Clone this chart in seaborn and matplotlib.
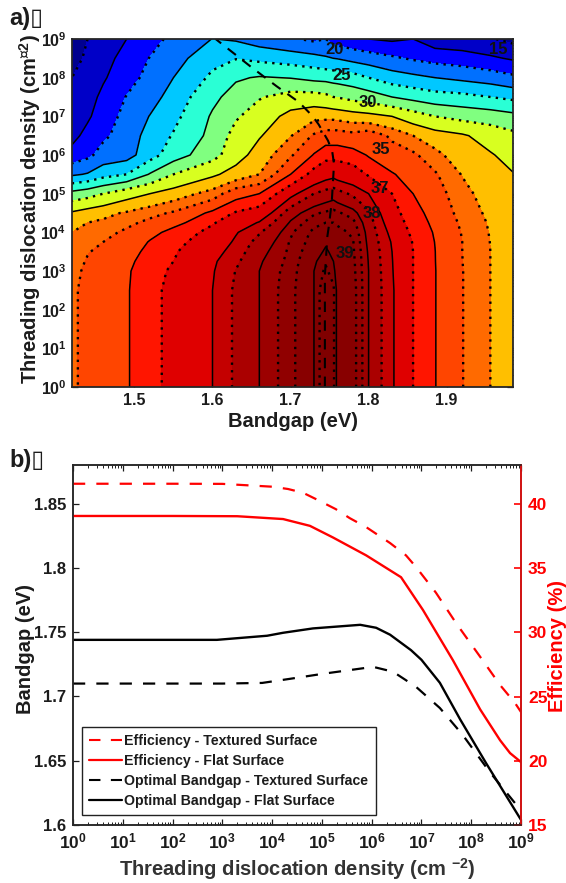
import numpy as np
import pandas as pd
import seaborn as sns
import matplotlib
matplotlib.use("Agg")
import matplotlib.pyplot as plt
from matplotlib.lines import Line2D

# ---------- panel a data ----------
bandgap = [1.42, 1.44, 1.46, 1.49, 1.52, 1.55, 1.60, 1.63, 1.66, 1.70, 1.73,
           1.745, 1.755, 1.76, 1.78, 1.80, 1.83, 1.857, 1.885, 1.92, 1.956, 1.985]
log_density = [0, 1, 2, 2.5, 3, 3.25, 3.5, 3.75, 4, 4.25, 4.5, 5, 5.5, 6, 6.5, 7, 7.5, 8, 8.5, 9]
eff_b142 = [33.2, 33.2, 33.2, 33.2, 33.0, 32.8, 32.5, 32.3, 32, 31.2, 30.3, 25.8, 19.6, 15.9, 14.2, 14, 13.5, 12.5, 11.5, 10.5]
eff_b144 = [34, 34, 34, 34, 33.85, 33.65, 33.4, 33.2, 32.9, 32, 31, 26.5, 20.2, 16.9, 15.8, 14.6, 14, 13.5, 13, 12.5]
eff_b146 = [34.3, 34.3, 34.3, 34.25, 34.15, 34.05, 33.9, 33.5, 33, 32.3, 31.5, 27.5, 21.5, 18.5, 17, 16.3, 15.6, 14.7, 14.2, 13.8]
eff_b149 = [34.9, 34.9, 34.9, 34.9, 34.85, 34.7, 34.4, 34.1, 33.8, 33.1, 32.2, 29, 22.5, 19, 18.7, 18.2, 17.6, 16.6, 15.8, 15]
eff_b152 = [35.7, 35.7, 35.7, 35.7, 35.65, 35.55, 35.4, 35.1, 34.6, 33.9, 33, 30, 25.2, 21.5, 20.9, 20.1, 19, 18.2, 17.6, 16.5]
eff_b155 = [36.3, 36.3, 36.3, 36.3, 36.15, 36, 35.9, 35.7, 35.4, 34.6, 33.7, 31, 27.5, 23.8, 22.7, 21.8, 21, 20, 19, 18.2]
eff_b160 = [37, 37, 37, 37, 36.95, 36.9, 36.75, 36.55, 36.3, 35.9, 35.3, 32.7, 29.6, 26.6, 25.7, 25.3, 24.4, 23, 21.7, 20.05]
eff_b163 = [37.6, 37.6, 37.6, 37.6, 37.52, 37.4, 37.25, 37.1, 36.95, 36.6, 36.1, 34.5, 30.9, 29, 28.4, 27.2, 26, 24.7, 22.4, 19.7]
eff_b166 = [38, 38, 38, 38, 38, 37.95, 37.85, 37.7, 37.45, 37.05, 36.5, 35, 32, 31, 29.8, 28.7, 27.3, 25.2, 21.9, 18.7]
eff_b170 = [38.5, 38.5, 38.5, 38.5, 38.45, 38.4, 38.37, 38.33, 38.25, 38.05, 37.8, 36.8, 35, 33.3, 31.9, 30.7, 28.5, 24.9, 21.3, 17.8]
eff_b173 = [39, 39, 39, 39, 39, 38.97, 38.85, 38.75, 38.68, 38.5, 38.25, 37.5, 36.4, 35.1, 33.7, 31.5, 28.5, 24.3, 20.8, 17]
eff_b1745 = [39.25, 39.25, 39.25, 39.25, 39.15, 39.1, 39.05, 38.95, 38.8, 38.6, 38.35, 37.7, 36.7, 35.7, 34.3, 31.5, 28.1, 24.2, 20.3, 17.5]
eff_b1755 = [39.15, 39.15, 39.15, 39.15, 39.05, 39, 38.92, 38.85, 38.75, 38.6, 38.4, 37.8, 36.8, 35.7, 34.3, 31.5, 27.5, 24, 20, 16.5]
eff_b176 = [38.95, 38.95, 38.95, 38.95, 38.9, 38.87, 38.82, 38.77, 38.7, 38.55, 38.35, 37.7, 36.7, 35.7, 34.3, 31.4, 27.4, 23.9, 19.9, 16.3]
eff_b178 = [38.75, 38.75, 38.75, 38.75, 38.7, 38.68, 38.65, 38.62, 38.55, 38.4, 38.15, 37.4, 36.5, 35.5, 34, 31, 26.7, 23.5, 19.2, 15.6]
eff_b180 = [38, 38, 38, 38, 38, 37.98, 37.95, 37.9, 37.85, 37.75, 37.6, 37, 35.9, 34.9, 34.5, 30.7, 26.2, 22.5, 18.7, 15]
eff_b183 = [37.1, 37.1, 37.1, 37.1, 37.05, 37.03, 37, 36.95, 36.8, 36.6, 36.4, 36, 35.1, 34.2, 33.2, 30, 25, 21.2, 17.9, 14.6]
eff_b1857 = [36, 36, 36, 36, 36, 36, 36, 35.95, 35.8, 35.6, 35.4, 35, 34.5, 33.8, 32, 28.7, 24.2, 20.6, 17.2, 15]
eff_b1885 = [35.05, 35.05, 35.05, 35.05, 35.05, 35.03, 35.02, 34.98, 34.9, 34.75, 34.6, 34.2, 33.7, 32.5, 31, 27.5, 23.5, 20, 16.6, 13.5]
eff_b192 = [33.55, 33.55, 33.55, 33.55, 33.55, 33.52, 33.5, 33.5, 33.42, 33.25, 33, 32.6, 31.9, 31, 30.3, 26.7, 23.2, 19.4, 16.2, 13.2]
eff_b1956 = [32, 32, 32, 32, 32, 32, 32, 31.97, 31.9, 31.8, 31.6, 31.1, 30.7, 30.2, 29, 26.3, 22.5, 18.8, 15.4, 12.7]
eff_b1985 = [31, 31, 31, 31, 31, 31, 31, 30.95, 30.9, 30.8, 30.7, 30.4, 30.1, 29.2, 28.1, 25.7, 21.9, 18, 14.7, 11.8]
eff_columns = [eff_b142, eff_b144, eff_b146, eff_b149, eff_b152, eff_b155, eff_b160, eff_b163,
               eff_b166, eff_b170, eff_b173, eff_b1745, eff_b1755, eff_b176, eff_b178, eff_b180,
               eff_b183, eff_b1857, eff_b1885, eff_b192, eff_b1956, eff_b1985]

solid_levels = [15, 20, 25, 30, 35, 37, 38, 39]
dotted_levels = [12.5, 17.5, 22.5, 27.5, 32, 33.5, 36, 37.5, 38.3, 38.6, 39.12]
band_colors = ["#00008f", "#0000c8", "#0000ff", "#0070ff", "#00c8ff", "#2affd5", "#80ff80",
               "#d8ff20", "#ffbf00", "#ff6a00", "#ff4500", "#ff1500", "#df0000", "#c40000",
               "#aa0000", "#9c0000", "#900000", "#880000", "#800000", "#800000"]

contour_labels = ["15", "20", "25", "30", "35", "37", "38", "39"]
label_bandgap = [1.966, 1.756, 1.765, 1.799, 1.816, 1.815, 1.804, 1.77]
label_logdensity = [8.72, 8.74, 8.05, 7.36, 6.13, 5.14, 4.48, 3.45]

# ---------- panel b data ----------
flat_opt_log = [0, 1, 2, 2.89, 3.9, 4.22, 4.82, 5.77, 6.09, 6.37, 6.79, 7, 7.37, 7.78, 8.3, 9]
flat_opt_eg = [1.744, 1.744, 1.744, 1.744, 1.7472, 1.7495, 1.7529, 1.7557, 1.7534, 1.748, 1.736, 1.7285, 1.7106, 1.682, 1.648, 1.604]
text_opt_log = [0, 1, 2, 3, 3.8, 4.36, 5.02, 6.03, 6.43, 6.89, 7.37, 7.83, 8.37, 8.88, 9]
text_opt_eg = [1.71, 1.71, 1.71, 1.71, 1.7105, 1.7137, 1.7176, 1.723, 1.7192, 1.7075, 1.691, 1.67, 1.6413, 1.617, 1.61]
flat_eff_log = [0, 1, 2, 3.3, 4.22, 4.76, 5.22, 5.89, 6.59, 7.03, 7.63, 8.18, 8.58, 8.78, 9]
flat_eff = [39.07, 39.07, 39.07, 39.05, 38.83, 38.3, 37.4, 36, 34.3, 31.75, 27.85, 24, 21.6, 20.6, 19.9]
text_eff_log = [0, 1, 2, 3, 4, 4.32, 4.62, 4.92, 5.28, 5.56, 5.89, 6.37, 6.69, 6.89, 7.29, 7.7, 8.18, 8.58, 8.88, 9]
text_eff = [41.58, 41.58, 41.58, 41.57, 41.35, 41.17, 40.88, 40.31, 39.6, 38.9, 38.2, 36.96, 36, 35.1, 33.1, 30.7, 28.1, 25.9, 24.5, 23.8]
legend_labels = ["Efficiency - Textured Surface", "Efficiency - Flat Surface",
                 "Optimal Bandgap - Textured Surface", "Optimal Bandgap - Flat Surface"]
eg_ticks = [1.6, 1.65, 1.7, 1.75, 1.8, 1.85]
eg_ticklabels = ["1.6", "1.65", "1.7", "1.75", "1.8", "1.85"]
eff_ticks = [15, 20, 25, 30, 35, 40]
decades = list(range(10))

# ---------- style ----------
sns.set_theme(style="ticks", rc={
    "axes.linewidth": 1.3, "mathtext.fontset": "custom",
    "mathtext.bf": "Liberation Sans:bold", "mathtext.rm": "Liberation Sans:bold",
    "mathtext.it": "Liberation Sans:bold", "mathtext.default": "bf",
})
plt.rcParams["font.family"] = ["Liberation Sans", "DejaVu Sans"]
plt.rcParams["font.weight"] = "bold"
W, H = 566, 883
fig = plt.figure(figsize=(W / 100, H / 100), dpi=100)


def px_axes(l, t, r, b):
    return fig.add_axes([l / W, 1 - b / H, (r - l) / W, (b - t) / H])


def decade_labels():
    return [rf"$\mathbf{{10^{{{n}}}}}$" for n in decades]


minor_log = [n + np.log10(k) for n in decades[:-1] for k in range(2, 10)]
dark = "#1c1c1c"

# ---------- panel a ----------
ax = px_axes(72, 39, 513, 387)
Z = np.array(eff_columns).T
all_levels = sorted(solid_levels + dotted_levels)
ax.contourf(bandgap, log_density, Z, levels=all_levels, colors=band_colors, extend="both")
ax.contour(bandgap, log_density, Z, levels=solid_levels, colors="black", linewidths=1.1, linestyles="solid")
ax.contour(bandgap, log_density, Z, levels=dotted_levels, colors="black", linewidths=1.7,
           linestyles=[(0, (1, 2.2))])
sns.lineplot(x=flat_opt_eg, y=flat_opt_log, ax=ax, color="black", lw=1.5, sort=False,
             estimator=None, linestyle=(0, (5, 4)))
ax.set_xlim(1.42, 1.985)
ax.set_ylim(0, 9)
ax.set_xticks([1.5, 1.6, 1.7, 1.8, 1.9], ["1.5", "1.6", "1.7", "1.8", "1.9"])
ax.set_yticks(decades, decade_labels())
ax.set_yticks(minor_log, minor=True)
ax.tick_params(which="major", direction="in", length=4, width=0.9, top=True, right=True,
               labelsize=11.5, pad=4, colors=dark)
ax.tick_params(which="minor", direction="in", length=2, width=0.7, left=True, right=True)
ax.set_xlabel("Bandgap (eV)", fontsize=14.5, fontweight="bold", labelpad=3, color=dark)
ax.set_ylabel("Threading dislocation density (cm$^{\\mathbf{\u25af2}}$)",
              fontsize=14.5, fontweight="bold", color=dark)
ax.yaxis.set_label_coords(-0.066, 0.51)
for s, xv, yv in zip(contour_labels, label_bandgap, label_logdensity):
    ax.text(xv, yv, s, fontsize=12, fontweight="bold", color="#111111", ha="center", va="center")
fig.text(9 / W, 1 - 25 / H, "a)\u25af", fontsize=17, fontweight="bold", color=dark)

# ---------- panel b ----------
axb = px_axes(73, 465, 521, 825)
axr = axb.twinx()
sns.lineplot(data=pd.DataFrame({"x": text_opt_log, "y": text_opt_eg}), x="x", y="y", ax=axb,
             color="black", lw=1.6, linestyle=(0, (5.5, 5)), estimator=None, sort=False)
sns.lineplot(data=pd.DataFrame({"x": flat_opt_log, "y": flat_opt_eg}), x="x", y="y", ax=axb,
             color="black", lw=1.7, estimator=None, sort=False)
sns.lineplot(data=pd.DataFrame({"x": text_eff_log, "y": text_eff}), x="x", y="y", ax=axr,
             color="#ff0000", lw=1.6, linestyle=(0, (5.5, 5)), estimator=None, sort=False)
sns.lineplot(data=pd.DataFrame({"x": flat_eff_log, "y": flat_eff}), x="x", y="y", ax=axr,
             color="#ff0000", lw=1.7, estimator=None, sort=False)
axb.set_xlim(0, 9)
axb.set_ylim(1.6, 1.88)
axr.set_ylim(15, 43.04)
axb.set_xticks(decades, decade_labels())
axb.set_xticks(minor_log, minor=True)
axb.set_yticks(eg_ticks, eg_ticklabels)
axr.set_yticks(eff_ticks, [str(t) for t in eff_ticks])
axb.tick_params(which="major", direction="in", length=4, width=0.9, top=True, labelsize=12.5, colors=dark, pad=5)
axb.tick_params(which="minor", direction="in", length=2, width=0.7, top=True, bottom=True, colors=dark)
axb.tick_params(axis="y", direction="in", length=4, pad=5, labelsize=12)
axr.tick_params(axis="y", direction="in", length=5, width=1.2, labelsize=12.5, colors="#ff0000", pad=5)
axr.spines["right"].set_color("#d01010")
axr.spines["right"].set_linewidth(1.4)
for a in (axb, axr):
    a.spines["top"].set_linewidth(1.1)
    a.spines["left"].set_linewidth(1.1)
    a.spines["bottom"].set_linewidth(1.1)
    a.spines["top"].set_visible(True)
axb.spines["right"].set_visible(False)
axb.set_xlabel(r"Threading dislocation density (cm $^{\mathbf{-2}}$)", fontsize=14.5, fontweight="bold",
               color="#333333", labelpad=3)
axb.set_ylabel("Bandgap (eV)", fontsize=14.5, fontweight="bold", color=dark)
axb.yaxis.set_label_coords(-0.085, 0.49)
axr.set_ylabel("Efficiency (%)", fontsize=14.5, fontweight="bold", color="#ff0000")
axr.yaxis.set_label_coords(1.06, 0.497)
handles = [Line2D([], [], color="#ff0000", lw=1.5, linestyle=(0, (5.5, 5))),
           Line2D([], [], color="#ff0000", lw=1.6),
           Line2D([], [], color="black", lw=1.5, linestyle=(0, (5.5, 5))),
           Line2D([], [], color="black", lw=1.6)]
leg = axr.legend(handles, legend_labels, loc="lower left", bbox_to_anchor=(9 / 448, 10 / 360),
                 borderaxespad=0, frameon=True, fancybox=False, framealpha=1,
                 edgecolor="#222222", handlelength=2.3, handletextpad=0.2, labelspacing=0.42,
                 borderpad=0.5, prop={"weight": "bold", "size": 10.2})
leg.get_frame().set_linewidth(1.0)
for t in leg.get_texts():
    t.set_color(dark)
fig.text(9 / W, 1 - 467 / H, "b)\u25af", fontsize=17, fontweight="bold", color=dark)

fig.savefig("out.png", dpi=100)
